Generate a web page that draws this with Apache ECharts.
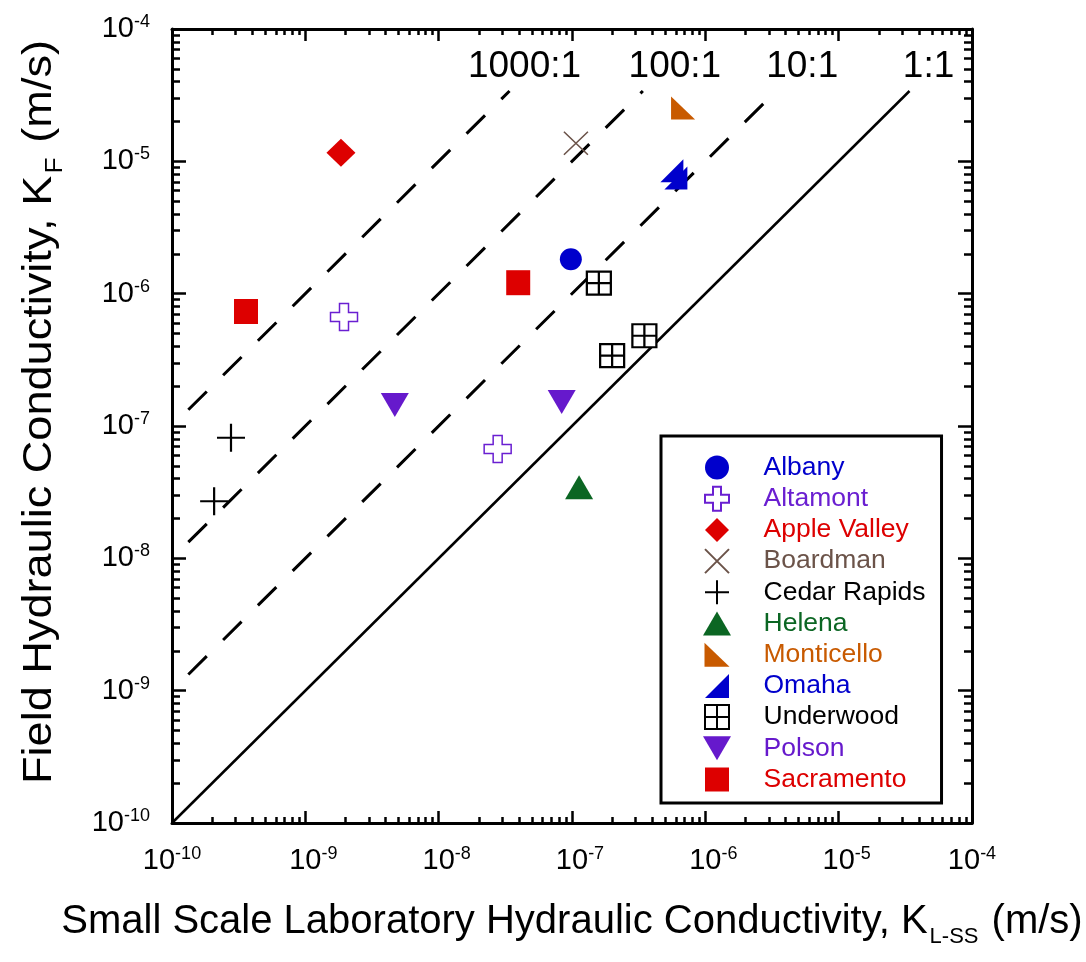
<!DOCTYPE html>
<html>
<head>
<meta charset="utf-8">
<script src="https://cdn.jsdelivr.net/npm/echarts@6/dist/echarts.min.js"></script>
<style>
  html, body { margin: 0; padding: 0; background: #fff; }
  #chart { width: 1086px; height: 962px; }
</style>
</head>
<body>
<div id="chart"></div>
<script>
  // lab (small scale) vs field hydraulic conductivity, m/s  ->  [K_L-SS, K_F]
  const albany      = [[9.8e-8, 1.82e-6]];
  const altamont    = [[1.95e-9, 6.65e-7], [2.77e-8, 6.71e-8]];
  const appleValley = [[1.85e-9, 1.16e-5]];
  const boardman    = [[1.07e-7, 1.37e-5]];
  const cedarRapids = [[2.77e-10, 8.15e-8], [2.07e-10, 2.70e-8]];
  const helena      = [[1.13e-7, 3.44e-8]];
  const monticello  = [[6.81e-7, 2.53e-5]];
  const omaha       = [[5.61e-7, 8.48e-6], [6.01e-7, 7.48e-6]];
  const underwood   = [[1.59e-7, 1.20e-6], [2.00e-7, 3.40e-7], [3.49e-7, 4.81e-7]];
  const polson      = [[4.69e-9, 1.44e-7], [8.37e-8, 1.52e-7]];
  const sacramento  = [[3.59e-10, 7.33e-7], [3.95e-8, 1.21e-6]];

  const siteNames = ['Albany', 'Altamont', 'Apple Valley', 'Boardman', 'Cedar Rapids', 'Helena',
    'Monticello', 'Omaha', 'Underwood', 'Polson', 'Sacramento'];
  const siteData = [albany, altamont, appleValley, boardman, cedarRapids, helena,
    monticello, omaha, underwood, polson, sacramento];

  // ratio lines K_F : K_L-SS
  const line1to1    = [[1e-10, 1e-10], [3.4e-5, 3.4e-5]];
  const line10to1   = [[1e-10, 1e-9], [3.4e-6, 3.4e-5]];
  const line100to1  = [[1e-10, 1e-8], [3.4e-7, 3.4e-5]];
  const line1000to1 = [[1e-10, 1e-7], [3.4e-8, 3.4e-5]];
  const ratioLabels = ['1:1', '10:1', '100:1', '1000:1'];

  // axis ticks
  const decades = [1e-10, 1e-9, 1e-8, 1e-7, 1e-6, 1e-5, 1e-4];
  const tickExponents = ['-10', '-9', '-8', '-7', '-6', '-5', '-4'];
  const minorTicks = [];
  decades.slice(0, -1).forEach(d => {
    for (let k = 2; k <= 9; k++) minorTicks.push(k * d);
  });

  const FONT = '"Liberation Sans", Arial, Helvetica, sans-serif';

  const siteStyle = {
    'Albany':       { symbol: 'circle', size: 22, fill: '#0000cc', stroke: '#0000cc', bw: 0 },
    'Altamont':     { symbol: 'path://M9,0H18V9H27V18H18V27H9V18H0V9H9Z', size: [27, 27], fill: '#fff', stroke: '#6a1fd1', bw: 1.5, text: '#6a1fd1' },
    'Apple Valley': { symbol: 'path://M14,0L28,14L14,28L0,14Z', size: [29, 28], fill: '#dd0000', stroke: '#dd0000', bw: 0 },
    'Boardman':     { symbol: 'path://M0,0L22,22M22,0L0,22', size: [24, 23], fill: '#6b5349', stroke: '#6b5349', bw: 1.5 },
    'Cedar Rapids': { symbol: 'path://M14,0V28M0,14H28', size: [28, 28], fill: '#000', stroke: '#000', bw: 2.2 },
    'Helena':       { symbol: 'path://M14,0L28,24L0,24Z', size: [28, 24], fill: '#0b6623', stroke: '#0b6623', bw: 0 },
    'Monticello':   { symbol: 'path://M0,0L24,23L0,23Z', size: [24, 23], fill: '#c85a00', stroke: '#c85a00', bw: 0 },
    'Omaha':        { symbol: 'path://M24,0L24,24L0,24Z', size: [23, 23], fill: '#0000cc', stroke: '#0000cc', bw: 0 },
    'Underwood':    { symbol: 'path://M0,0H24V24H0ZM12,0V24M0,12H24', size: [24, 23], fill: '#fff', stroke: '#000', bw: 2.2, text: '#000' },
    'Polson':       { symbol: 'path://M0,0H28L14,24Z', size: [28, 24], fill: '#6619cc', stroke: '#6619cc', bw: 0 },
    'Sacramento':   { symbol: 'path://M0,0H24V24H0Z', size: [24, 25], fill: '#dd0000', stroke: '#dd0000', bw: 0 }
  };

  function expIndex(value) {
    return decades.findIndex(d => Math.abs(Math.log10(d) - Math.log10(value)) < 1e-6);
  }
  function yLabel(value) {
    return '{b|10}{s|' + tickExponents[expIndex(value)] + '}';
  }
  // inner x labels sit a little right of their tick in the original
  function xLabel(value) {
    const i = expIndex(value);
    const pad = (i > 0 && i < decades.length - 1) ? '{p|}' : '';
    return pad + '{b|10}{s|' + tickExponents[i] + '}';
  }
  const powRich = {
    b: { fontFamily: FONT, fontSize: 29, color: '#000', lineHeight: 32 },
    s: { fontFamily: FONT, fontSize: 18, color: '#000', lineHeight: 18, verticalAlign: 'top' },
    p: { width: 16 }
  };

  function logAxis(grid, pos, ticks, len, showLine) {
    return {
      type: 'log', logBase: 10, gridIndex: grid, position: pos,
      min: 1e-10, max: 1e-4,
      axisLine: { show: showLine, onZero: false, lineStyle: { color: '#000', width: 3 } },
      axisTick: { show: true, inside: true, length: len, customValues: ticks,
        lineStyle: { color: '#000', width: 2.5 } },
      axisLabel: { show: false },
      splitLine: { show: false },
      minorTick: { show: false },
      minorSplitLine: { show: false }
    };
  }

  const xMain = logAxis(0, 'bottom', decades, 12, true);
  xMain.axisLabel = { show: true, customValues: decades, formatter: xLabel, rich: powRich, margin: 22 };
  xMain.name = '{t|Small Scale Laboratory Hydraulic Conductivity, K}{sub|L-SS}{t| (m/s)}';
  xMain.nameLocation = 'middle';
  xMain.nameGap = 77;
  xMain.nameTextStyle = {
    rich: {
      t: { fontFamily: FONT, fontSize: 40, color: '#000', lineHeight: 44 },
      sub: { fontFamily: FONT, fontSize: 22, color: '#000', lineHeight: 22, padding: [30, 2, 0, 2] }
    }
  };

  const yMain = logAxis(0, 'left', decades, 14, true);
  yMain.axisLabel = { show: true, customValues: decades, formatter: yLabel, rich: powRich, margin: 22 };

  const ratioOffsets = [19, 26, 32, 15];
  const ratioLines = [line1to1, line10to1, line100to1, line1000to1];
  const lineSeries = ratioLines.map((pts, k) => ({
    type: 'line',
    name: ratioLabels[k],
    xAxisIndex: 0, yAxisIndex: 0,
    z: 1, silent: true,
    showSymbol: true, symbol: 'circle', symbolSize: 0,
    lineStyle: k === 0
      ? { color: '#000', width: 2.5, type: 'solid' }
      : { color: '#000', width: 3, type: [26, 23], dashOffset: 26 },
    label: { show: false },
    emphasis: { disabled: true },
    data: pts.map((p, i) => i === pts.length - 1
      ? { value: p, label: { show: true, formatter: ratioLabels[k], position: 'top', distance: 6,
          offset: [ratioOffsets[k], 0], fontFamily: FONT, fontSize: 37, color: '#000' } }
      : p)
  }));

  const scatterSeries = siteNames.map((name, k) => {
    const st = siteStyle[name];
    return {
      type: 'scatter', name: name,
      xAxisIndex: 0, yAxisIndex: 0, z: 3,
      symbol: st.symbol, symbolSize: st.size,
      itemStyle: { color: st.fill, borderColor: st.stroke, borderWidth: st.bw, opacity: 1 },
      emphasis: { disabled: true },
      data: siteData[k]
    };
  });

  const chart = echarts.init(document.getElementById('chart'), null, { renderer: 'canvas' });
  chart.setOption({
    animation: false,
    backgroundColor: '#fff',
    grid: [
      { left: 172, top: 29, width: 800, height: 794, containLabel: false },
      { left: 172, top: 29, width: 800, height: 794, containLabel: false }
    ],
    xAxis: [
      xMain,
      logAxis(0, 'top', decades, 12, true),
      logAxis(1, 'bottom', minorTicks, 6, false),
      logAxis(1, 'top', minorTicks, 6, false)
    ],
    yAxis: [
      yMain,
      logAxis(0, 'right', decades, 14, true),
      logAxis(1, 'left', minorTicks, 8, false),
      logAxis(1, 'right', minorTicks, 8, false)
    ],
    graphic: [{
      type: 'text',
      x: 40, y: 412,
      rotation: Math.PI / 2,
      scaleX: 1.1,
      style: {
        text: '{t|Field Hydraulic Conductivity, K}{sub|F}{t| (m/s)}',
        align: 'center', verticalAlign: 'middle',
        rich: {
          t: { fontFamily: FONT, fontSize: 41, fill: '#000', lineHeight: 46 },
          sub: { fontFamily: FONT, fontSize: 24, fill: '#000', lineHeight: 24, padding: [30, 2, 0, 2] }
        }
      }
    }],
    legend: {
      orient: 'vertical', left: 661, top: 436,
      padding: [18, 16, 10, 42],
      itemWidth: 83, itemHeight: 24, itemGap: 4.2,
      symbolKeepAspect: true,
      backgroundColor: '#fff', borderColor: '#000', borderWidth: 3, borderRadius: 0,
      selectedMode: false,
      textStyle: { fontFamily: FONT, fontSize: 26.5, lineHeight: 26 },
      data: siteNames.map(n => ({
        name: n,
        textStyle: { color: siteStyle[n].text || siteStyle[n].fill }
      }))
    },
    series: lineSeries.concat(scatterSeries)
  });
</script>
</body>
</html>
